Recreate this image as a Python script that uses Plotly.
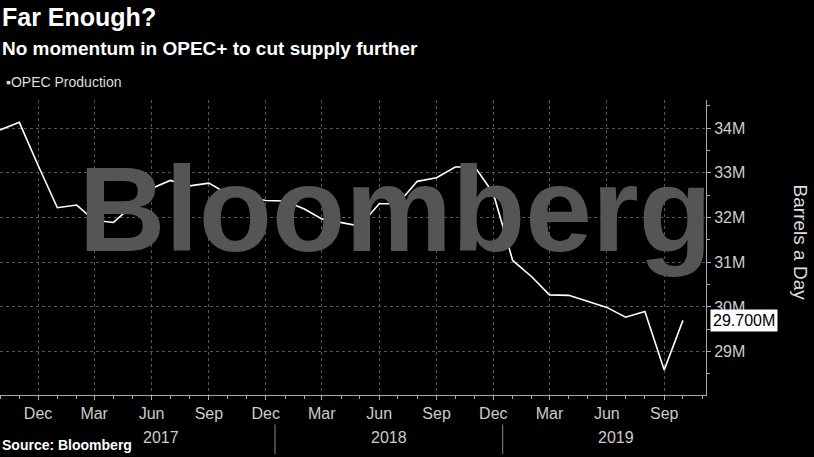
import plotly.graph_objects as go
import pandas as pd

months = pd.date_range("2016-10-01", "2019-10-01", freq="MS")
values = [33.96, 34.13, 33.17, 32.22, 32.28, 31.94, 31.89, 32.27, 32.65, 32.83, 32.71, 32.77,
          32.53, 32.46, 32.38, 32.37, 32.19, 31.97, 31.89, 31.81, 32.31, 32.31, 32.81, 32.89,
          33.13, 33.14, 32.54, 31.04, 30.67, 30.27, 30.26, 30.12, 29.99, 29.77, 29.90, 28.59, 29.70]
ytick_vals = [29, 30, 31, 32, 33, 34]
ytick_text = ["29M", "30M", "31M", "32M", "33M", "34M"]
xtick_vals = pd.date_range("2016-12-01", "2019-09-01", freq="3MS")
xtick_text = [d.strftime("%b") for d in xtick_vals]
years = ["2017", "2018", "2019"]

F = "Liberation Sans"
fig = go.Figure()
fig.add_trace(go.Scatter(x=[0.56], y=[0.59], mode="text", text=["<b>Bloomberg</b>"],
                         textfont=dict(family=F, size=120, color="#555555"),
                         xaxis="x2", yaxis="y2", hoverinfo="skip", showlegend=False))
fig.add_trace(go.Scatter(x=months, y=values, mode="lines", line=dict(color="white", width=1.6),
                         showlegend=False))

shapes = []
for yr in ["2017-12-16", "2018-12-16"]:
    shapes.append(dict(type="line", xref="x", yref="paper", x0=yr, x1=yr, y0=-0.1, y1=-0.2,
                       line=dict(color="#888", width=1)))
ann = [
    dict(x=0, y=1, xref="paper", yref="paper", xanchor="left", yanchor="top", yshift=99,
         text="<b>Far Enough?</b>", showarrow=False, font=dict(family=F, size=25, color="white")),
    dict(x=0, y=1, xref="paper", yref="paper", xanchor="left", yanchor="top", yshift=64,
         text="<b>No momentum in OPEC+ to cut supply further</b>", showarrow=False,
         font=dict(family=F, size=19, color="white")),
    dict(x=0, y=1, xref="paper", yref="paper", xanchor="left", yanchor="top", yshift=28, xshift=4,
         text="▪OPEC Production", showarrow=False, font=dict(family=F, size=14, color="#dddddd")),
    dict(x=0, y=0, xref="paper", yref="paper", xanchor="left", yanchor="bottom", yshift=-60,
         text="<b>Source: Bloomberg</b>", showarrow=False, font=dict(family=F, size=14, color="white")),
    dict(x=1, y=0.72, xref="paper", yref="paper", xanchor="center", xshift=94, textangle=90,
         text="Barrels a Day", showarrow=False, font=dict(family=F, size=19, color="#dddddd")),
    dict(x=1, y=29.70, xref="paper", yref="y", xanchor="left", xshift=4,
         text="29.700M", showarrow=False, bgcolor="white", borderpad=2,
         font=dict(family=F, size=16, color="black")),
]
for yr, mid in zip(years, ["2017-06-16", "2018-06-16", "2019-06-16"]):
    ann.append(dict(x=mid, y=0, xref="x", yref="paper", yanchor="top", yshift=-32, text=yr,
                    showarrow=False, font=dict(family=F, size=16, color="#cccccc")))

fig.update_layout(
    width=814, height=457, paper_bgcolor="black", plot_bgcolor="black",
    margin=dict(l=0, r=108, t=100, b=62), shapes=shapes, annotations=ann,
    xaxis=dict(range=["2016-10-01", "2019-11-07"], tickvals=xtick_vals, ticktext=xtick_text,
               showgrid=True, gridcolor="#555", griddash="dot", gridwidth=1,
               ticks="outside", ticklen=4, tickcolor="#aaa", zeroline=False,
               tickfont=dict(family=F, size=16, color="#cccccc"),
               showline=True, linecolor="#aaa",
               minor=dict(dtick="M1", ticks="outside", ticklen=3, tickcolor="#aaa", showgrid=False)),
    yaxis=dict(range=[28.03, 34.63], side="right", tickvals=ytick_vals, ticktext=ytick_text,
               showgrid=True, gridcolor="#555", griddash="dot", zeroline=False,
               ticks="outside", ticklen=4, tickcolor="#aaa", showline=True, linecolor="#aaa",
               tickfont=dict(family=F, size=16, color="#cccccc"),
               minor=dict(dtick=0.5, ticks="outside", ticklen=3, tickcolor="#aaa", showgrid=False)),
    xaxis2=dict(range=[0, 1], overlaying="x", visible=False),
    yaxis2=dict(range=[0, 1], overlaying="y", visible=False),
)
fig.write_html("out.html", config={"displayModeBar": False},
               post_script="document.body.style.margin='0';document.body.style.overflow='hidden';")
